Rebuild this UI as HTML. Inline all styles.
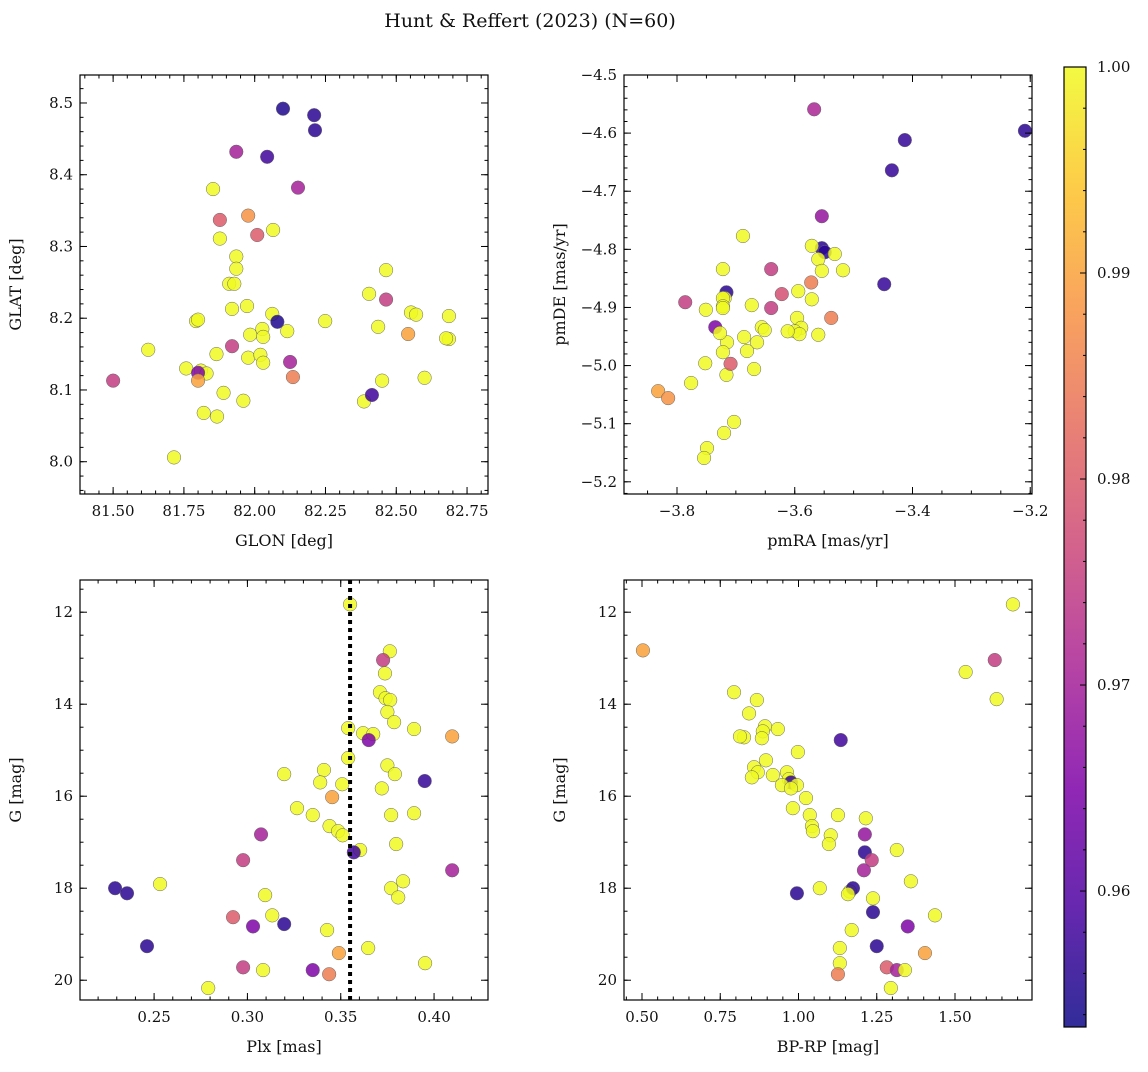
<!DOCTYPE html>
<html><head><meta charset="utf-8"><style>
body{margin:0;background:#fff;}
svg text{font-family:"DejaVu Serif","Liberation Serif",serif;fill:#111;}
</style></head><body>
<svg id="fig" width="1148" height="1067" viewBox="0 0 1148 1067" xmlns="http://www.w3.org/2000/svg">
<defs>
<linearGradient id="plasma" x1="0" y1="1" x2="0" y2="0">
<stop offset="0" stop-color="#0d0887"/><stop offset="0.125" stop-color="#4c02a1"/><stop offset="0.25" stop-color="#7e03a8"/><stop offset="0.375" stop-color="#a92395"/><stop offset="0.5" stop-color="#cc4778"/><stop offset="0.625" stop-color="#e56b5d"/><stop offset="0.75" stop-color="#f89441"/><stop offset="0.875" stop-color="#fdc328"/><stop offset="1" stop-color="#f0f921"/>
</linearGradient>
</defs>
<text x="530" y="27" font-size="19" text-anchor="middle">Hunt &amp; Reffert (2023) (N=60)</text>
</svg>
<script>
// Panel 1: GLON / GLAT
const glon=[81.50,81.624,81.853,81.935,82.10,82.044,82.21,82.213,82.153,81.877,81.977,82.009,82.065,81.877,81.935,81.935,81.91,81.928,81.92,81.973,82.062,82.08,81.984,82.027,82.03,82.115,82.249,81.793,81.80,81.92,81.865,81.977,82.02,82.03,82.125,81.758,81.81,81.83,81.80,81.80,82.135,81.89,81.82,81.867,81.96,81.715,82.464,82.404,82.436,82.464,82.552,82.57,82.542,82.686,82.686,82.676,82.60,82.45,82.386,82.414];
const glat=[8.113,8.156,8.380,8.432,8.492,8.425,8.483,8.462,8.382,8.337,8.343,8.316,8.323,8.311,8.286,8.269,8.248,8.248,8.213,8.217,8.206,8.195,8.177,8.185,8.174,8.182,8.196,8.196,8.198,8.161,8.150,8.145,8.149,8.138,8.139,8.130,8.127,8.123,8.124,8.113,8.118,8.096,8.068,8.063,8.085,8.006,8.267,8.234,8.188,8.226,8.208,8.205,8.178,8.203,8.171,8.172,8.117,8.113,8.084,8.093];
const prob1=[0.975,1,1,0.97,0.955,0.958,0.956,0.956,0.97,0.98,0.988,0.98,1,1,1,1,1,1,1,1,1,0.955,1,1,1,1,1,1,1,0.975,1,1,1,1,0.97,1,1,1,0.965,0.99,0.985,1,1,1,1,1,1,1,1,0.975,1,1,0.99,1,1,1,1,1,1,0.958];
// Panel 2: pmRA / pmDE
const pmra=[-3.209,-3.413,-3.435,-3.448,-3.567,-3.554,-3.554,-3.549,-3.571,-3.532,-3.56,-3.554,-3.518,-3.572,-3.538,-3.571,-3.594,-3.622,-3.64,-3.596,-3.589,-3.6,-3.592,-3.612,-3.56,-3.688,-3.722,-3.64,-3.716,-3.719,-3.722,-3.722,-3.722,-3.673,-3.656,-3.651,-3.686,-3.664,-3.681,-3.715,-3.669,-3.716,-3.709,-3.751,-3.735,-3.727,-3.722,-3.752,-3.703,-3.72,-3.749,-3.754,-3.776,-3.832,-3.815,-3.786];
const pmde=[-4.596,-4.612,-4.664,-4.860,-4.559,-4.743,-4.798,-4.805,-4.794,-4.808,-4.817,-4.837,-4.836,-4.857,-4.918,-4.886,-4.872,-4.877,-4.901,-4.918,-4.935,-4.941,-4.946,-4.941,-4.947,-4.777,-4.834,-4.834,-4.874,-4.884,-4.884,-4.898,-4.901,-4.896,-4.934,-4.939,-4.951,-4.96,-4.975,-4.96,-5.006,-5.016,-4.997,-4.904,-4.934,-4.944,-4.977,-4.996,-5.097,-5.116,-5.142,-5.159,-5.030,-5.044,-5.056,-4.891];
const prob2=[0.956,0.957,0.957,0.957,0.971,0.968,0.956,0.956,1,1,1,1,1,0.985,0.985,1,1,0.978,0.975,1,1,1,1,1,1,1,1,0.975,0.956,1,1,1,1,1,1,1,1,1,1,1,1,1,0.98,1,0.965,1,1,1,1,1,1,1,1,0.99,0.988,0.975];
// Panel 3: Plx / G
const plx=[0.355,0.3763,0.3727,0.3737,0.371,0.374,0.3765,0.375,0.3786,0.354,0.362,0.3674,0.365,0.3893,0.4097,0.395,0.354,0.375,0.341,0.339,0.3197,0.3508,0.379,0.372,0.3454,0.3266,0.335,0.377,0.3893,0.344,0.3486,0.351,0.3073,0.3797,0.3604,0.357,0.2977,0.4097,0.2532,0.3834,0.377,0.3808,0.2291,0.2355,0.3095,0.3133,0.2923,0.303,0.3197,0.3427,0.2462,0.349,0.3647,0.3952,0.2977,0.3084,0.335,0.3438,0.279];
const gmag3=[11.83,12.85,13.04,13.33,13.74,13.87,13.91,14.17,14.39,14.52,14.63,14.65,14.78,14.54,14.70,15.67,15.17,15.33,15.43,15.70,15.52,15.74,15.52,15.83,16.02,16.26,16.41,16.41,16.37,16.65,16.76,16.85,16.83,17.04,17.17,17.22,17.39,17.61,17.91,17.85,18.0,18.2,18.0,18.11,18.15,18.59,18.63,18.83,18.78,18.91,19.26,19.41,19.30,19.63,19.72,19.78,19.78,19.87,20.17];
const prob3=[1,1,0.975,1,1,1,1,1,1,1,1,1,0.965,1,0.99,0.957,1,1,1,1,1,1,1,1,0.99,1,1,1,1,1,1,1,0.97,1,1,0.958,0.975,0.97,1,1,1,1,0.956,0.956,1,1,0.98,0.965,0.956,1,0.956,0.99,1,1,0.975,1,0.965,0.985,1];
// Panel 4: BP-RP / G
const bprp=[0.503,1.685,1.534,1.627,1.633,0.794,0.867,0.842,0.893,0.886,0.934,0.883,0.826,0.813,1.135,0.998,0.896,0.858,0.870,0.851,0.918,0.963,0.969,0.976,0.947,0.995,0.976,1.024,0.982,1.036,1.126,1.215,1.043,1.046,1.103,1.212,1.097,1.314,1.212,1.234,1.209,1.359,1.068,1.164,1.174,1.158,0.995,1.238,1.436,1.238,1.170,1.349,1.250,1.132,1.132,1.404,1.282,1.314,1.340,1.126,1.295];
const gmag4=[12.83,11.83,13.30,13.04,13.89,13.74,13.91,14.20,14.48,14.59,14.54,14.74,14.72,14.70,14.78,15.04,15.22,15.37,15.48,15.59,15.54,15.48,15.63,15.70,15.76,15.76,15.83,16.04,16.26,16.41,16.41,16.48,16.65,16.76,16.85,16.83,17.04,17.17,17.22,17.39,17.61,17.85,18.0,18.07,18.0,18.13,18.11,18.22,18.59,18.52,18.91,18.83,19.26,19.30,19.63,19.41,19.72,19.78,19.78,19.87,20.17];
const prob4=[0.99,1,1,0.975,1,1,1,1,1,1,1,1,1,1,0.958,1,1,1,1,1,1,1,1,0.957,1,1,1,1,1,1,1,1,1,1,1,0.968,1,1,0.956,0.975,0.97,1,1,1,0.956,1,0.956,1,1,0.956,1,0.965,0.956,1,1,0.99,0.98,0.97,1,0.985,1];
const cbTicks=[0.96,0.97,0.98,0.99,1.00];

const NS="http://www.w3.org/2000/svg";
const svg=document.getElementById('fig');
function mk(tag,attrs,parent){const e=document.createElementNS(NS,tag);for(const k in attrs)e.setAttribute(k,attrs[k]);(parent||svg).appendChild(e);return e;}
const stops=["#0d0887","#4c02a1","#7e03a8","#a92395","#cc4778","#e56b5d","#f89441","#fdc328","#f0f921"];
function hex(h){return [1,3,5].map(i=>parseInt(h.substr(i,2),16));}
const CMIN=0.9534,CMAX=1.0;
function plasma(v){let t=(v-CMIN)/(CMAX-CMIN);t=Math.max(0,Math.min(1,t));const p=t*8;const i=Math.min(7,Math.floor(p));const f=p-i;const a=hex(stops[i]),b=hex(stops[i+1]);return 'rgb('+a.map((x,j)=>Math.round(x+(b[j]-x)*f)).join(',')+')';}

function panel(name,box,xd,yd,xMaj,xMin,yMaj,yMin,xfmt,yfmt,xl,yl,xs,ys,cs){
  const [L,T,R,B]=box;
  const sx=v=>L+(v-xd[0])/(xd[1]-xd[0])*(R-L);
  const sy=v=>B-(v-yd[0])/(yd[1]-yd[0])*(B-T);
  const g=mk('g',{});
  
  
  const pts=mk('g',{},g);
  
  
  for(let i=0;i<xs.length;i++){
    const c=mk('circle',{cx:sx(xs[i]),cy:sy(ys[i]),r:6.8,fill:plasma(cs[i]),'fill-opacity':0.85,stroke:'#666','stroke-width':0.5},pts);
    
    
  }
  const ax=mk('g',{},g);
  
  
  function ticks(step,len,isX){
    const d=isX?xd:yd;const lo=Math.min(d[0],d[1]),hi=Math.max(d[0],d[1]);
    for(let v=Math.ceil(lo/step-1e-6)*step;v<=hi+1e-9;v+=step){
      if(isX){const x=sx(v);mk('line',{x1:x,x2:x,y1:B,y2:B-len,stroke:'#000','stroke-width':1},ax);mk('line',{x1:x,x2:x,y1:T,y2:T+len,stroke:'#000','stroke-width':1},ax);}
      else{const y=sy(v);mk('line',{x1:L,x2:L+len,y1:y,y2:y,stroke:'#000','stroke-width':1},ax);mk('line',{x1:R,x2:R-len,y1:y,y2:y,stroke:'#000','stroke-width':1},ax);}
    }
  }
  ticks(xMin,3.5,true);ticks(xMaj,7,true);ticks(yMin,3.5,false);ticks(yMaj,7,false);
  const lo=Math.min(xd[0],xd[1]),hi=Math.max(xd[0],xd[1]);
  for(let v=Math.ceil(lo/xMaj-1e-6)*xMaj;v<=hi+1e-9;v+=xMaj){
    const t=mk('text',{x:sx(v),y:B+22,'font-size':15,'text-anchor':'middle'},ax);t.textContent=xfmt(v);
    
    
  }
  const ylo=Math.min(yd[0],yd[1]),yhi=Math.max(yd[0],yd[1]);
  for(let v=Math.ceil(ylo/yMaj-1e-6)*yMaj;v<=yhi+1e-9;v+=yMaj){
    const t=mk('text',{x:L-7,y:sy(v)+5,'font-size':15,'text-anchor':'end'},ax);t.textContent=yfmt(v);
    
    
  }
  mk('rect',{x:L,y:T,width:R-L,height:B-T,fill:'none',stroke:'#000','stroke-width':1.2},ax);
  const xt=mk('text',{x:(L+R)/2,y:B+52,'font-size':16,'text-anchor':'middle'},g);xt.textContent=xl;
  
  
  const yt=mk('text',{x:0,y:0,'font-size':16,'text-anchor':'middle',transform:`translate(${L-59},${(T+B)/2}) rotate(-90)`},g);yt.textContent=yl;
  
  
  return {sx,sy};
}
const mn=v=>(v<0?'\u2212':'')+Math.abs(v).toFixed(1);
panel('glon-glat-panel',[80,75,488,494],[81.383,82.824],[7.955,8.539],0.25,0.05,0.1,0.02,v=>v.toFixed(2),v=>v.toFixed(1),'GLON [deg]','GLAT [deg]',glon,glat,prob1);
panel('pm-panel',[624,75,1032,494],[-3.890,-3.197],[-5.221,-4.5],0.2,0.05,0.1,0.02,mn,mn,'pmRA [mas/yr]','pmDE [mas/yr]',pmra,pmde,prob2);
const p3=panel('plx-g-panel',[80,580,488,1000],[0.2103,0.4289],[20.43,11.30],0.05,0.01,2,0.5,v=>v.toFixed(2),v=>Math.round(v).toString(),'Plx [mas]','G [mag]',plx,gmag3,prob3);
const dl=mk('line',{x1:p3.sx(0.355),x2:p3.sx(0.355),y1:580,y2:1000,stroke:'#000','stroke-width':4,'stroke-dasharray':'4,4'});


panel('color-mag-panel',[624,580,1032,1000],[0.4425,1.746],[20.43,11.30],0.25,0.05,2,0.5,v=>v.toFixed(2),v=>Math.round(v).toString(),'BP-RP [mag]','G [mag]',bprp,gmag4,prob4);

// colorbar
const cb=mk('g',{});


const CT=67,CB=1027,CL=1064,CR=1086;
mk('rect',{x:CL,y:CT,width:CR-CL,height:CB-CT,fill:'url(#plasma)','fill-opacity':0.85},cb);
mk('rect',{x:CL,y:CT,width:CR-CL,height:CB-CT,fill:'none',stroke:'#000','stroke-width':1.2},cb);
const cy=v=>CB-(v-CMIN)/(CMAX-CMIN)*(CB-CT);
for(let k=0;k<cbTicks.length;k++){const v=cbTicks[k];const y=cy(v);
  mk('line',{x1:CR,x2:CR-6,y1:y,y2:y,stroke:'#000'},cb);
  const t=mk('text',{x:CR+11,y:y+5,'font-size':15},cb);t.textContent=v.toFixed(2);
  
  
  if(k<cbTicks.length-1){for(let j=1;j<5;j++){const m=cy(v+j*0.002);mk('line',{x1:CR,x2:CR-3,y1:m,y2:m,stroke:'#000'},cb);}}
}
for(let j=1;j<4;j++){const m=cy(0.96-j*0.002);if(m<CB)mk('line',{x1:CR,x2:CR-3,y1:m,y2:m,stroke:'#000'},cb);}
</script>
</body></html>
